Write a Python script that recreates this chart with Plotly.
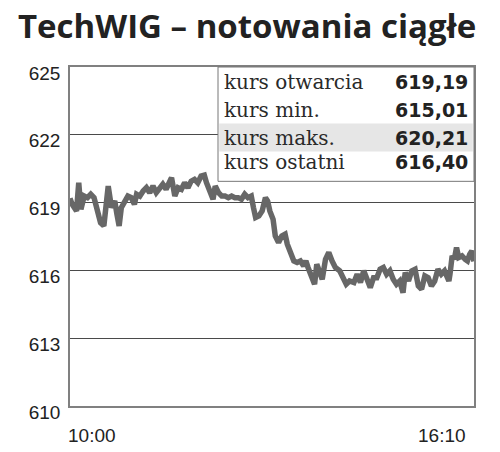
import plotly.graph_objects as go

# minutes after 10:00 and index value
minutes = [
    0, 2, 6, 8, 10, 13, 16, 19, 22, 25, 28, 31, 33, 35, 38, 41, 43, 45, 47, 50,
    53, 56, 59, 61, 64, 67, 70, 73, 76, 79, 82, 85, 88, 91, 93, 96, 99, 102, 105, 108,
    111, 114, 117, 120, 123, 125, 128, 131, 133, 136, 139, 142, 145, 148, 151, 154, 157, 160, 163, 166,
    168, 170, 173, 176, 179, 181, 183, 186, 188, 191, 194, 197, 199, 202, 205, 208, 211, 214, 216, 218,
    221, 224, 226, 228, 231, 234, 237, 240, 243, 247, 250, 253, 256, 260, 263, 266, 269, 272, 275, 278,
    281, 284, 287, 290, 293, 296, 299, 302, 305, 307, 310, 313, 316, 319, 322, 325, 328, 331, 334, 337,
    340, 343, 347, 348, 350, 352, 354, 356, 359, 362, 364, 366, 368, 370,
]
kurs = [
    619.19, 618.92, 618.63, 619.88, 618.70, 619.29, 619.22, 619.37, 619.22, 618.63,
    618.11, 617.97, 618.78, 619.73, 618.78, 619.07, 618.48, 617.97, 618.78, 619.07,
    619.29, 619.22, 618.92, 619.37, 619.29, 619.51, 619.66, 619.44, 619.73, 619.44,
    619.66, 619.81, 619.59, 619.88, 620.10, 619.29, 619.66, 619.59, 619.88, 619.66,
    619.95, 620.03, 619.88, 620.17, 620.21, 619.88, 619.44, 619.15, 619.73, 619.44,
    619.29, 619.29, 619.22, 619.29, 619.22, 619.22, 619.15, 619.37, 619.22, 619.29,
    618.78, 618.34, 618.41, 618.63, 619.22, 619.07, 618.63, 618.26, 617.52, 617.23,
    617.52, 617.60, 617.16, 616.71, 616.42, 616.35, 616.42, 616.20, 616.42, 616.13,
    615.68, 615.39, 616.27, 615.98, 615.61, 616.49, 616.79, 616.42, 616.13, 615.98,
    615.61, 615.39, 615.53, 615.46, 615.83, 615.46, 615.98, 615.61, 615.24, 615.68,
    615.68, 616.05, 616.13, 615.83, 615.98, 615.61, 615.39, 615.53, 615.01, 615.91,
    615.53, 615.98, 616.05, 615.31, 615.17, 615.76, 615.68, 615.31, 615.53, 616.05,
    615.83, 615.98, 615.53, 615.83, 616.64, 616.49, 617.01, 616.57, 616.64, 616.49,
    616.42, 616.71, 616.86, 616.40,
]
y_ticks = [610, 613, 616, 619, 622, 625]
x_ticks = [0, 370]
x_labels = ["10:00", "16:10"]

stat_labels = ["kurs otwarcia", "kurs min.", "kurs maks.", "kurs ostatni"]
stat_values = ["619,19", "615,01", "620,21", "616,40"]

# the page body adds an 8px offset, so figure coordinates are the target ones minus 8
OFF = 8
W, H = 500, 452
PL, PT, PW, PH = 70 - OFF, 67 - OFF, 404, 339.5

fig = go.Figure(go.Scatter(
    x=minutes, y=kurs, mode="lines",
    line={"color": "#676767", "width": 5.5},
    hoverinfo="skip", showlegend=False,
))

fig.update_layout(
    width=W, height=H,
    margin={"l": PL, "r": W - PL - PW, "t": PT, "b": H - PT - PH, "autoexpand": False},
    paper_bgcolor="white", plot_bgcolor="white",
    title={"text": "<b>TechWIG – notowania ciągłe</b>", "x": (18 - OFF) / W, "xanchor": "left",
           "y": 1 - (26 - OFF) / H, "yanchor": "middle",
           "font": {"family": "Open Sans", "size": 33, "color": "#222222"}},
    xaxis={"range": [0, 370], "showgrid": False, "showticklabels": False, "ticks": "",
           "showline": True, "linecolor": "#808080", "linewidth": 1.5, "mirror": True,
           "zeroline": False, "fixedrange": True, "automargin": False},
    yaxis={"range": [610, 625], "tickvals": y_ticks, "showgrid": True,
           "gridcolor": "#4a4a4a", "gridwidth": 1,
           "showline": True, "linecolor": "#808080", "linewidth": 1.5, "mirror": True,
           "zeroline": False, "ticks": "", "ticklabelshift": 6, "ticklabelstandoff": 4,
           "tickfont": {"family": "Liberation Sans", "size": 19, "color": "#222222"},
           "fixedrange": True, "automargin": False},
)

# x tick labels: first aligned left, last aligned right
for xv, txt, anc, sh in zip(x_ticks, x_labels, ["left", "right"], [-4, -6]):
    fig.add_annotation(x=xv, y=0, xref="x", yref="paper", text=txt, showarrow=False,
                       xanchor=anc, yanchor="top", xshift=sh, yshift=-17,
                       font={"family": "Liberation Sans", "size": 19, "color": "#222222"})

# stats box
box_x0 = (218 - 70) / PW
box_y0 = (407 - 182) / PH
fig.add_shape(type="rect", xref="paper", yref="paper", x0=box_x0, x1=1, y0=box_y0, y1=1,
              fillcolor="white", line={"color": "#777777", "width": 1}, layer="above")
fig.add_shape(type="rect", xref="paper", yref="paper", x0=box_x0 + 0.003, x1=0.997,
              y0=(407 - 152) / PH, y1=(407 - 124) / PH,
              fillcolor="#e6e6e6", line={"width": 0}, layer="above")

row_y = [83, 111, 139, 163]
for lab, val, ry in zip(stat_labels, stat_values, row_y):
    yp = (407 - ry) / PH
    fig.add_annotation(x=box_x0, y=yp, xref="paper", yref="paper", text=lab,
                       showarrow=False, xanchor="left", yanchor="middle", xshift=4,
                       font={"family": "DejaVu Serif", "size": 20, "color": "#2a2a2a"})
    fig.add_annotation(x=1, y=yp, xref="paper", yref="paper", text="<b>" + val + "</b>",
                       showarrow=False, xanchor="right", yanchor="middle", xshift=-4,
                       font={"family": "DejaVu Sans", "size": 19, "color": "#222222"})

fig.write_html("out.html")
